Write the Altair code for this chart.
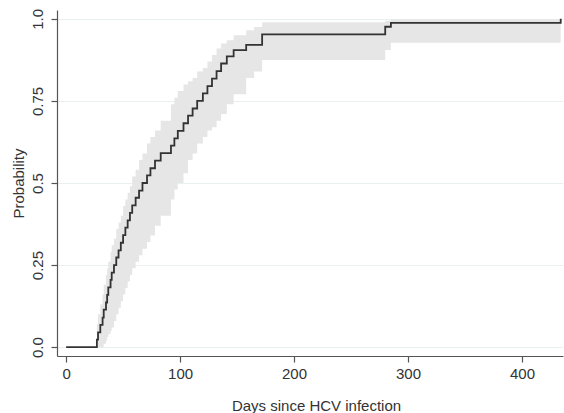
import altair as alt
import pandas as pd

# Kaplan-Meier style step curve (days since HCV infection, cumulative probability)
days = [0, 27, 28, 30, 32, 33, 35, 36, 37, 39, 40, 42, 44, 46, 48, 50, 52, 54, 56, 58,
        61, 64, 67, 71, 74, 78, 83, 92, 95, 98, 103, 107, 111, 115, 120, 124, 128, 132,
        136, 141, 147, 158, 172, 280, 285, 434]
surv = [0, 0.023, 0.045, 0.068, 0.09, 0.114, 0.136, 0.159, 0.182, 0.205, 0.227, 0.25,
        0.273, 0.295, 0.318, 0.341, 0.364, 0.386, 0.409, 0.432, 0.455, 0.477, 0.5, 0.523,
        0.545, 0.568, 0.591, 0.614, 0.636, 0.659, 0.682, 0.705, 0.727, 0.75, 0.773, 0.795,
        0.818, 0.841, 0.864, 0.886, 0.905, 0.921, 0.953, 0.976, 0.988, 1.0]

# Confidence band (steps at the event times)
band_days = [27, 28, 30, 32, 33, 35, 36, 37, 39, 40, 42, 44, 46, 48, 50, 52, 54, 56, 58,
             61, 64, 67, 71, 74, 78, 83, 92, 95, 98, 103, 107, 111, 115, 120, 124, 128,
             132, 136, 141, 147, 158, 165, 172, 280, 285, 434]
band_upper = [0.07, 0.10, 0.13, 0.16, 0.19, 0.22, 0.24, 0.26, 0.29, 0.31, 0.33, 0.36, 0.38,
              0.40, 0.43, 0.45, 0.47, 0.49, 0.52, 0.54, 0.57, 0.59, 0.62, 0.64, 0.66, 0.69,
              0.74, 0.76, 0.78, 0.80, 0.81, 0.82, 0.84, 0.85, 0.87, 0.89, 0.91, 0.925,
              0.935, 0.95, 0.965, 0.975, 0.99, 0.994, 0.998, 0.998]
band_lower = [0.0, 0.0, 0.0, 0.0, 0.01, 0.02, 0.03, 0.04, 0.05, 0.06, 0.08, 0.10, 0.12,
              0.14, 0.16, 0.18, 0.20, 0.22, 0.24, 0.26, 0.28, 0.30, 0.32, 0.34, 0.37, 0.40,
              0.45, 0.48, 0.50, 0.53, 0.57, 0.59, 0.62, 0.64, 0.66, 0.67, 0.69, 0.71, 0.74,
              0.77, 0.82, 0.84, 0.875, 0.905, 0.927, 0.927]

x_ticks = [0, 100, 200, 300, 400]
y_ticks = [0, 0.25, 0.5, 0.75, 1.0]

curve = pd.DataFrame({"day": days, "p": surv})
band = pd.DataFrame({"day": band_days, "lo": band_lower, "hi": band_upper})

FONT = "Liberation Sans"
TXT = "#333333"
AX = "#555555"

x_scale = alt.Scale(domain=[-8, 436], nice=False, zero=False)
y_scale = alt.Scale(domain=[-0.027, 1.027], nice=False, zero=False)

x_axis = alt.Axis(values=x_ticks, title="Days since HCV infection", grid=False,
                  tickSize=6, labelPadding=4, titleX=259, titleY=49,
                  titleBaseline="middle", titleAlign="center")
y_axis = alt.Axis(values=y_ticks, title="Probability", grid=True, gridColor="#e8f0f0",
                  tickSize=6, labelAngle=270, labelAlign="center", labelBaseline="bottom",
                  labelPadding=6,
                  labelExpr="datum.value == 0 ? '0.0' : (datum.value == 1 ? '1.0' : '' + datum.value)",
                  titleX=-39, titleY=173, titleBaseline="middle", titleAlign="center")

area = alt.Chart(band).mark_area(interpolate="step-after", color="#e6e6e6", opacity=1).encode(
    x=alt.X("day:Q", scale=x_scale, axis=x_axis),
    y=alt.Y("lo:Q", scale=y_scale, axis=y_axis),
    y2="hi:Q",
)
line = alt.Chart(curve).mark_line(interpolate="step-after", color="#333333",
                                  strokeWidth=1.8).encode(
    x=alt.X("day:Q", scale=x_scale),
    y=alt.Y("p:Q", scale=y_scale),
)

chart = alt.layer(area, line).properties(
    width=506, height=346,
    autosize=alt.AutoSizeParams(type="none"),
    padding={"left": 57, "top": 10, "right": 1, "bottom": 57},
    background="white",
).configure_view(strokeWidth=0).configure_axis(
    labelFont=FONT, titleFont=FONT, labelFontSize=15, titleFontSize=15,
    labelColor=TXT, titleColor=TXT, titleFontWeight="normal",
    domainColor=AX, tickColor=AX, domainWidth=1.2, tickWidth=1.2,
)

chart.save("out.html", embed_options={"renderer": "svg", "actions": False})
